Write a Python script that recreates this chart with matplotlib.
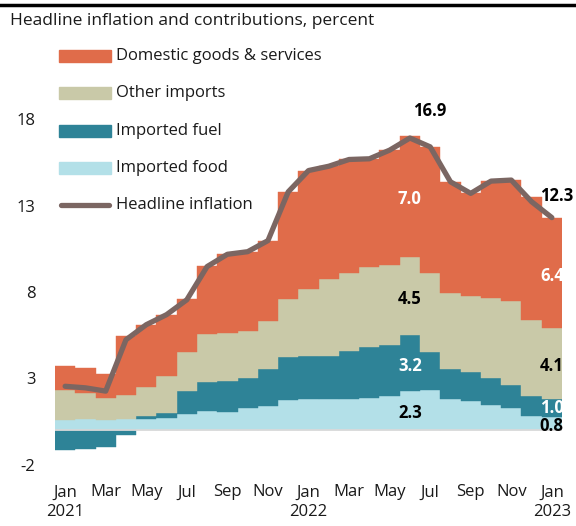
import numpy as np
import matplotlib.pyplot as plt
from matplotlib.patches import Rectangle
from matplotlib.lines import Line2D

plt.rcParams['font.family'] = ['Open Sans', 'DejaVu Sans']
plt.rcParams['axes.unicode_minus'] = False

# monthly data, Jan 2021 .. Jan 2023 (percentage point contributions)
tick_labels = ["Jan\n2021", "Mar", "May", "Jul", "Sep", "Nov",
               "Jan\n2022", "Mar", "May", "Jul", "Sep", "Nov", "Jan\n2023"]
food = [0.60, 0.65, 0.60, 0.67, 0.67, 0.73, 0.92, 1.11, 1.05, 1.27, 1.40, 1.77, 1.84,
        1.84, 1.79, 1.88, 1.98, 2.30, 2.31, 1.84, 1.69, 1.44, 1.31, 0.84, 0.80]
fuel = [-1.13, -1.06, -0.94, -0.29, 0.15, 0.25, 1.38, 1.67, 1.79, 1.76, 2.16, 2.45, 2.48,
        2.48, 2.82, 2.92, 2.98, 3.20, 2.23, 1.73, 1.67, 1.59, 1.30, 1.14, 1.00]
other = [1.76, 1.52, 1.28, 1.40, 1.70, 2.15, 2.21, 2.79, 2.79, 2.70, 2.74, 3.35, 3.88,
         4.46, 4.48, 4.67, 4.61, 4.50, 4.55, 4.37, 4.38, 4.62, 4.88, 4.42, 4.10]
domestic = [1.39, 1.44, 1.39, 3.41, 3.59, 3.56, 3.10, 3.93, 4.55, 4.60, 4.67, 6.22, 6.82,
            6.49, 6.57, 6.23, 6.63, 7.00, 7.30, 6.43, 5.96, 6.76, 6.98, 7.10, 6.40]
headline = [2.55, 2.46, 2.27, 5.24, 6.11, 6.69, 7.55, 9.47, 10.18, 10.33, 10.97, 13.79, 15.02,
            15.27, 15.66, 15.70, 16.20, 16.90, 16.39, 14.37, 13.70, 14.41, 14.47, 13.22, 12.30]

COL_DOM = '#E06C4A'
COL_OTHER = '#C9C9A8'
COL_FUEL = '#2E8397'
COL_FOOD = '#B3E0E8'
COL_HEAD = '#7B6662'

W, H = 576, 526
fig = plt.figure(figsize=(W / 100, H / 100), dpi=100)
ax = fig.add_axes([55 / W, 61 / H, 507 / W, 346 / H])

x = np.arange(len(food))
pos = np.zeros(len(x))
neg = np.zeros(len(x))
series = [(food, COL_FOOD), (fuel, COL_FUEL), (other, COL_OTHER), (domestic, COL_DOM)]
for vals, col in series:
    vals = np.array(vals)
    bottom = np.where(vals >= 0, pos, neg)
    ax.bar(x, vals, bottom=bottom, width=1.0, color=col, edgecolor=col, linewidth=0.3, zorder=2)
    pos = pos + np.clip(vals, 0, None)
    neg = neg + np.clip(vals, None, 0)

ax.axhline(0, color='#D9D9D9', lw=1.3, zorder=2.5)
ax.plot(x, headline, color=COL_HEAD, lw=3.8, solid_capstyle='round',
        solid_joinstyle='round', zorder=4)

# data labels
def seg_mid(i, upto):
    vals = [food[i], fuel[i], other[i], domestic[i]][:upto + 1]
    return sum(vals) - vals[-1] / 2 - 0.15

lab = dict(fontsize=12, fontweight='bold', ha='center', va='center', zorder=5)
i = 17
ax.text(i + 1, headline[i] + 1.55, f"{headline[i]:.1f}", color='black', clip_on=False, **lab)
ax.text(i, seg_mid(i, 3), f"{domestic[i]:.1f}", color='white', **lab)
ax.text(i, seg_mid(i, 2), f"{other[i]:.1f}", color='black', **lab)
ax.text(i, seg_mid(i, 1), f"{fuel[i]:.1f}", color='white', **lab)
ax.text(i, seg_mid(i, 0), f"{food[i]:.1f}", color='black', **lab)
i = 24
ax.text(i + 0.25, headline[i] + 1.25, f"{headline[i]:.1f}", color='black', clip_on=False, **lab)
ax.text(i, seg_mid(i, 3), f"{domestic[i]:.1f}", color='white', **lab)
ax.text(i, seg_mid(i, 2), f"{other[i]:.1f}", color='black', clip_on=False, **lab)
ax.text(i, seg_mid(i, 1) + 0.12, f"{fuel[i]:.1f}", color='white', **lab)
ax.text(i, 0.24, f"{food[i]:.1f}", color='black', clip_on=False, **lab)

ax.set_xlim(-0.5, 24.5)
ax.set_ylim(-2, 18)
ax.set_yticks([-2, 3, 8, 13, 18])
ax.set_xticks(range(0, 25, 2))
ax.set_xticklabels(tick_labels, linespacing=1.3)
ax.tick_params(axis='both', length=0, labelsize=12, colors='#1a1a1a')
ax.tick_params(axis='y', pad=14)
ax.tick_params(axis='x', pad=14)
for s in ax.spines.values():
    s.set_visible(False)

# title and top rule
fig.add_artist(Line2D([0, 1], [1 - 5 / H] * 2, color='black', lw=2.5, transform=fig.transFigure))
fig.text(10 / W, 1 - 21 / H, "Headline inflation and contributions, percent",
         fontsize=12.5, va='center', color='#1a1a1a')

# legend
legend_items = [("Domestic goods & services", COL_DOM, 56),
                ("Other imports", COL_OTHER, 93),
                ("Imported fuel", COL_FUEL, 131),
                ("Imported food", COL_FOOD, 168)]
for name, col, yc in legend_items:
    fig.add_artist(Rectangle((59 / W, 1 - (yc + 6) / H), 52 / W, 12 / H,
                             color=col, transform=fig.transFigure))
    fig.text(116 / W, 1 - yc / H, name, fontsize=12, va='center', color='#1a1a1a')
fig.add_artist(Line2D([61 / W, 109 / W], [1 - 205 / H] * 2, color=COL_HEAD, lw=3.8,
                      solid_capstyle='round', transform=fig.transFigure))
fig.text(116 / W, 1 - 205 / H, "Headline inflation", fontsize=12, va='center', color='#1a1a1a')

fig.savefig('out.png', dpi=100)
